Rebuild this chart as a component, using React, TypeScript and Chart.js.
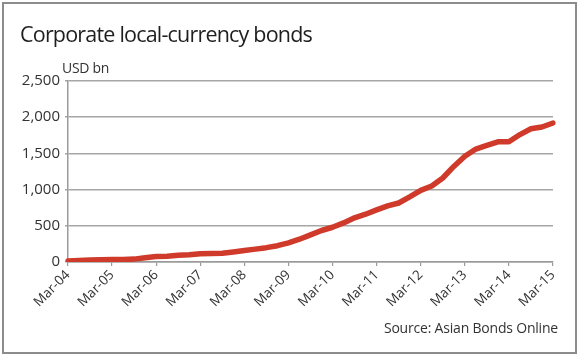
import React, { useEffect, useRef } from "react";
import { Chart, registerables } from "chart.js";

Chart.register(...registerables);

const years = ["04", "05", "06", "07", "08", "09", "10", "11", "12", "13", "14", "15"];
const quarters = ["Mar", "Jun", "Sep", "Dec"];
const labels: string[] = [];
years.forEach((y, yi) => {
  quarters.forEach((q) => {
    if (yi === years.length - 1 && q !== "Mar") return;
    labels.push(`${q}-${y}`);
  });
});

// USD bn, quarterly Mar-04 .. Mar-15
const bonds = [
  15, 20, 28, 32,
  33, 35, 40, 60,
  75, 80, 92, 100,
  115, 118, 120, 138,
  158, 178, 198, 225,
  265, 315, 375, 435,
  480, 540, 610, 660,
  720, 775, 815, 900,
  990, 1050, 1160, 1320,
  1460, 1560, 1610, 1660,
  1660, 1760, 1840, 1865,
  1920,
];

const yTicks = [0, 500, 1000, 1500, 2000, 2500];

const FONT = "'Open Sans', 'Noto Sans', sans-serif";

export default function App() {
  const ref = useRef<HTMLCanvasElement | null>(null);

  useEffect(() => {
    document.body.style.margin = "0";
    const ctx = ref.current!;
    const chart = new Chart(ctx, {
      type: "line",
      data: {
        labels,
        datasets: [
          {
            data: bonds,
            borderColor: "#cf3a2b",
            borderWidth: 5.5,
            pointRadius: 0,
            tension: 0,
            fill: false,
            borderJoinStyle: "round",
            borderCapStyle: "round",
          },
        ],
      },
      options: {
        animation: false,
        responsive: false,
        maintainAspectRatio: false,
        layout: { padding: { top: 81, left: 0, right: 27, bottom: 36 } },
        plugins: { legend: { display: false }, tooltip: { enabled: false }, title: { display: false } },
        scales: {
          x: {
            type: "category",
            offset: false,
            afterFit: (s: any) => {
              s.height = 60;
            },
            border: { display: true, color: "#9a9a9a", width: 1.5 },
            grid: {
              display: true,
              drawOnChartArea: false,
              drawTicks: true,
              tickLength: 4,
              color: (c: any) => (c.index % 4 === 0 ? "#9a9a9a" : "rgba(0,0,0,0)"),
              lineWidth: 1.2,
            },
            ticks: {
              autoSkip: false,
              maxRotation: 45,
              minRotation: 45,
              padding: 1,
              color: "#333",
              font: { family: FONT, size: 13.5 },
              callback: (_v: any, i: number) => (i % 4 === 0 ? labels[i] : ""),
            },
          },
          y: {
            min: 0,
            max: 2500,
            afterFit: (s: any) => {
              s.width = 68;
            },
            afterBuildTicks: (s: any) => {
              s.ticks = yTicks.map((v) => ({ value: v }));
            },
            border: { display: true, color: "#9a9a9a", width: 1.5 },
            grid: {
              color: "#a6a6a6",
              lineWidth: 1.5,
              drawTicks: true,
              tickLength: 3,
            },
            ticks: {
              padding: 5,
              color: "#333",
              font: { family: FONT, size: 15 },
              callback: (v: any) => Number(v).toLocaleString("en-US"),
            },
          },
        },
      },
    });
    return () => chart.destroy();
  }, []);

  return (
    <div style={{ position: "relative", width: 580, height: 358, background: "#fff", overflow: "hidden" }}>
      <div
        style={{
          position: "absolute",
          left: 2,
          top: 2,
          width: 571,
          height: 348,
          border: "2px solid #8c8c8c",
        }}
      />
      <canvas ref={ref} width={580} height={358} style={{ position: "absolute", left: 0, top: 0 }} />
      <div
        style={{
          position: "absolute",
          left: 20,
          top: 18,
          fontFamily: FONT,
          fontSize: 21.5,
          letterSpacing: -0.8,
          color: "#1e1e1e",
          whiteSpace: "nowrap",
          lineHeight: "32px",
        }}
      >
        Corporate local-currency bonds
      </div>
      <div
        style={{
          position: "absolute",
          left: 62,
          top: 58,
          fontFamily: FONT,
          fontSize: 14,
          letterSpacing: -0.3,
          color: "#333",
          whiteSpace: "nowrap",
          lineHeight: "20px",
        }}
      >
        USD bn
      </div>
      <div
        style={{
          position: "absolute",
          right: 22,
          top: 318,
          fontFamily: FONT,
          fontSize: 14,
          letterSpacing: -0.2,
          color: "#333",
          whiteSpace: "nowrap",
          lineHeight: "20px",
        }}
      >
        Source: Asian Bonds Online
      </div>
    </div>
  );
}
